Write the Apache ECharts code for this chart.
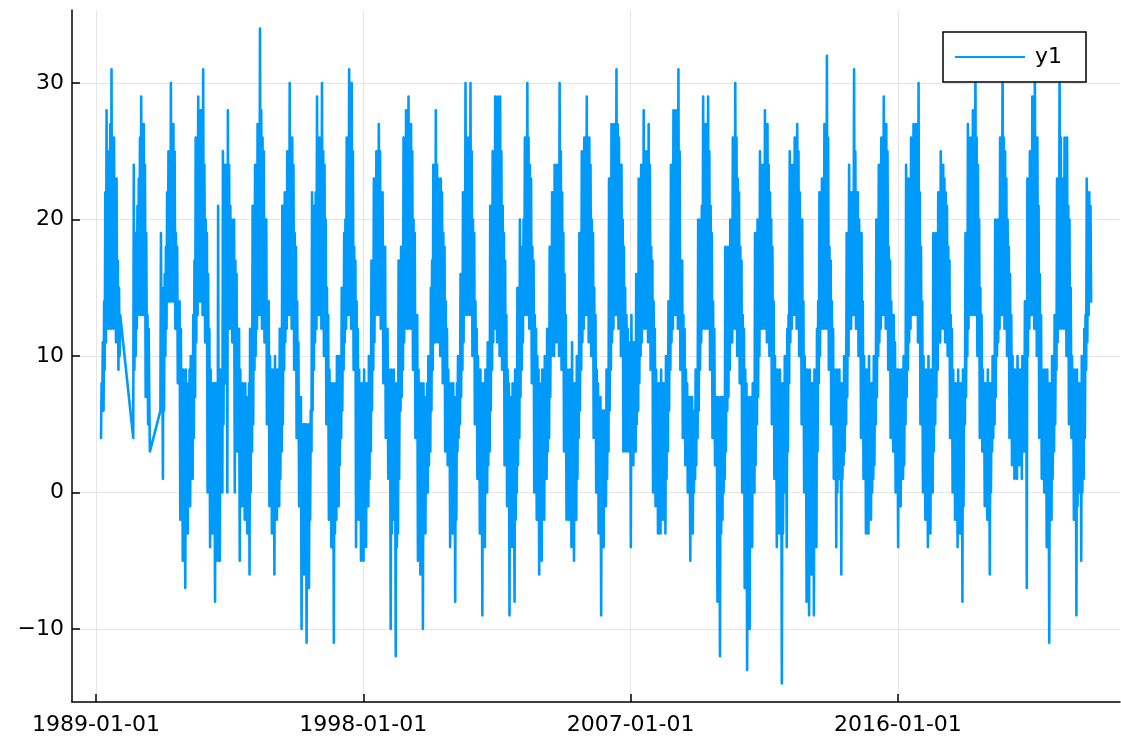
<!DOCTYPE html>
<html>
<head>
<meta charset="utf-8">
<script src="https://cdn.jsdelivr.net/npm/echarts@6/dist/echarts.min.js"></script>
<style>
  html, body { margin: 0; padding: 0; background: #fff; }
  #chart { width: 1121px; height: 742px; }
</style>
</head>
<body>
<div id="chart"></div>
<script>
// Years covered by the series
const years = [1989,1990,1991,1992,1993,1994,1995,1996,1997,1998,1999,2000,2001,2002,2003,2004,2005,2006,2007,2008,2009,2010,2011,2012,2013,2014,2015,2016,2017,2018,2019,2020,2021,2022];

// Four readings per month (Jan..Dec) of each year, taken on day 4, 11, 18 and 26; null = no data
const readingDay4 = [
  [null,null,4,6,11,12,12,12,11,9,null,null],
  [null,null,null,4,10,13,13,13,7,5,null,null],
  [null,null,6,1,10,14,14,14,12,8,-2,-5],
  [-7,-3,-1,1,7,13,14,13,11,0,-4,-3],
  [-8,-5,-5,0,8,0,12,11,0,3,-5,-1],
  [-2,-3,-6,3,9,12,13,12,11,5,-1,-3],
  [-6,-2,-1,3,9,12,13,12,9,4,-1,-10],
  [-6,-11,-7,3,9,12,13,12,10,5,-2,-4],
  [-11,-2,-1,4,9,12,13,12,9,-4,-2,-5],
  [-5,-4,-1,3,9,13,13,12,8,4,1,-10],
  [-2,-12,-3,6,9,12,12,12,9,4,-5,-6],
  [-10,-3,0,3,9,11,11,10,8,3,2,-4],
  [-3,-8,3,5,9,13,13,13,10,5,1,-3],
  [-9,-4,0,3,9,12,11,10,9,2,-1,-9],
  [-4,-8,0,4,9,13,13,12,8,0,-2,-6],
  [-5,-2,1,4,10,10,11,10,9,3,-2,-2],
  [-4,-5,-2,4,9,12,13,11,10,4,0,-3],
  [-9,-4,-1,3,9,12,13,12,10,3,3,3],
  [-4,2,3,6,10,12,12,11,9,0,-1,-3],
  [-3,-2,-3,3,9,12,13,12,9,4,2,0],
  [-5,-3,1,4,9,12,12,12,9,4,2,-8],
  [-12,-2,1,6,9,11,12,10,8,0,-7,-13],
  [-10,-4,0,5,10,12,12,11,10,5,1,-4],
  [-3,-14,0,-4,8,12,13,12,10,5,0,-8],
  [-9,-6,-9,-4,8,12,12,12,9,5,1,-4],
  [1,-6,2,5,10,12,13,12,10,4,1,-3],
  [-3,-2,1,5,10,12,13,12,9,4,3,0],
  [-4,-1,1,5,9,12,13,13,11,5,0,-2],
  [-4,-3,0,5,9,11,12,11,10,4,0,-2],
  [-4,-3,-8,5,10,13,13,13,10,4,3,-1],
  [-2,-6,3,5,10,12,13,12,10,4,2,1],
  [1,2,1,3,-7,12,13,12,10,4,1,0],
  [-4,-11,-2,3,9,12,12,12,10,5,4,-2],
  [-9,0,-5,1,9,13,14,null,null,null,null,null]
];

const readingDay11 = [
  [null,null,8,14,28,25,31,26,23,15,null,null],
  [null,null,null,24,19,23,29,27,19,12,null,null],
  [null,null,19,15,18,25,30,27,19,12,12,9],
  [9,7,10,13,26,29,28,31,20,16,9,8],
  [8,21,9,25,24,28,21,19,17,11,9,8],
  [8,7,12,21,24,27,34,26,19,13,10,9],
  [10,9,12,21,22,25,30,26,19,14,6,5],
  [5,4,5,22,21,29,26,30,24,15,9,8],
  [8,10,10,15,19,26,31,30,18,14,9,8],
  [9,8,10,17,23,25,27,19,17,12,9,9],
  [9,8,17,18,26,28,29,27,20,13,9,8],
  [8,7,10,15,24,28,23,23,19,14,9,8],
  [8,7,10,16,22,30,26,30,20,14,10,9],
  [8,9,11,21,25,29,29,29,21,17,9,7],
  [8,9,15,20,18,26,30,24,18,13,10,8],
  [9,10,12,18,22,24,24,30,22,16,9,9],
  [11,8,10,19,25,26,29,26,20,15,9,7],
  [6,6,9,23,27,27,31,26,24,18,13,11],
  [13,11,16,23,24,28,25,27,18,14,9,8],
  [9,8,10,14,24,28,28,31,17,13,9,7],
  [7,6,9,20,20,29,27,29,21,14,6,7],
  [7,7,18,18,20,26,30,23,18,13,9,7],
  [7,8,19,20,25,24,28,27,22,18,10,9],
  [9,8,10,12,25,24,26,27,22,20,10,9],
  [9,8,9,12,22,23,27,32,18,14,9,9],
  [9,8,10,19,24,22,31,22,20,19,10,9],
  [10,8,10,20,24,26,29,27,18,14,13,9],
  [9,9,10,24,23,26,27,27,30,18,10,9],
  [10,9,19,19,22,25,24,22,18,13,9,8],
  [9,8,9,19,27,26,28,32,24,15,9,8],
  [9,8,10,20,20,26,33,25,20,16,10,9],
  [10,9,10,14,23,25,29,32,26,16,9,9],
  [9,8,10,13,23,32,23,26,26,20,10,9],
  [9,8,10,12,23,22,null,null,null,null,null,null]
];

const readingDay18 = [
  [null,null,6,9,13,13,13,13,12,10,null,null],
  [null,null,null,9,12,14,14,13,10,7,null,null],
  [null,null,9,6,12,14,15,14,12,8,1,-1],
  [-2,0,1,4,11,14,14,13,11,6,0,-1],
  [-2,-1,0,5,10,12,13,12,10,6,0,0],
  [0,-1,0,5,10,13,14,13,11,6,2,-1],
  [-1,0,1,5,11,13,14,13,10,5,1,-4],
  [-3,-4,-2,6,11,13,14,13,11,6,1,-1],
  [-3,0,2,6,11,13,14,13,11,4,1,-1],
  [-1,0,1,6,11,14,14,13,11,6,2,-3],
  [0,-4,1,7,11,13,14,13,11,6,0,-2],
  [-3,0,2,6,11,13,13,12,10,5,3,0],
  [0,-2,4,7,11,14,15,14,12,7,3,0],
  [-2,0,2,6,11,13,13,13,11,5,1,-3],
  [-1,-2,2,7,11,14,15,14,11,5,1,-2],
  [-1,1,3,7,11,12,13,13,11,6,1,0],
  [0,-1,1,6,11,13,14,13,11,6,2,-1],
  [-3,-1,1,6,11,14,15,14,12,7,5,5],
  [3,4,5,8,11,13,13,13,11,5,2,0],
  [0,1,1,6,11,13,14,13,10,6,3,1],
  [-1,0,2,6,11,13,14,13,11,6,3,-2],
  [-3,0,3,7,11,13,14,12,10,5,-1,-3],
  [-2,0,2,7,12,13,14,13,12,7,3,0],
  [0,-3,2,3,11,13,14,13,11,7,2,-2],
  [-2,-1,-2,3,10,13,14,14,11,6,2,0],
  [3,1,3,7,12,13,14,13,12,7,3,1],
  [0,0,2,7,11,13,14,13,11,6,5,2],
  [0,1,2,7,11,13,14,14,12,7,2,0],
  [0,0,3,7,11,13,13,13,11,6,2,0],
  [0,0,-1,7,12,14,14,14,12,6,4,1],
  [1,0,4,7,11,14,14,13,11,6,3,3],
  [3,3,3,6,10,13,14,14,12,6,3,2],
  [0,-2,1,5,11,13,13,13,12,7,5,1],
  [-1,2,0,4,11,14,null,null,null,null,null,null]
];

const readingDay26 = [
  [null,null,11,22,23,27,25,23,17,13,null,null],
  [null,null,null,15,21,26,25,24,13,3,null,null],
  [null,null,13,16,22,24,26,25,18,14,9,8],
  [8,9,9,17,22,26,27,24,19,12,8,8],
  [8,9,8,18,22,24,20,20,16,12,8,7],
  [7,8,11,17,23,26,28,25,20,14,9,8],
  [9,8,11,16,21,24,26,24,18,11,7,5],
  [5,5,6,17,22,25,26,25,20,13,8,7],
  [7,9,9,14,20,24,27,25,17,12,8,8],
  [8,8,9,16,21,23,25,22,18,12,8,7],
  [8,7,12,17,22,25,26,25,19,13,8,7],
  [7,8,10,17,22,24,22,22,18,12,8,7],
  [7,8,10,15,21,26,25,25,19,12,8,8],
  [8,8,10,17,22,25,26,25,19,13,8,7],
  [7,8,12,17,20,25,26,23,17,12,9,7],
  [8,9,11,16,21,23,24,25,19,13,8,8],
  [8,7,9,16,22,24,26,24,19,13,8,7],
  [6,6,9,17,23,25,27,24,20,15,12,11],
  [11,11,13,19,22,25,24,24,17,12,8,8],
  [8,8,9,14,21,25,26,25,17,12,8,7],
  [7,6,9,16,21,25,25,25,19,12,7,6],
  [7,7,12,17,20,24,26,22,17,12,8,6],
  [7,8,12,18,22,24,25,24,20,14,9,8],
  [8,7,9,13,21,24,25,25,20,14,9,8],
  [8,8,8,14,20,23,26,26,17,12,8,8],
  [8,8,10,16,22,22,25,22,19,14,9,8],
  [8,8,10,17,22,24,26,25,17,13,11,9],
  [8,8,10,18,21,24,25,25,22,14,8,8],
  [8,8,13,17,21,23,23,21,17,12,8,8],
  [8,8,9,17,23,25,26,26,20,13,8,8],
  [8,8,10,17,20,24,26,23,18,13,9,9],
  [9,9,10,13,20,24,26,26,21,13,8,8],
  [8,8,9,12,21,26,22,24,21,15,9,8],
  [8,8,9,13,20,21,null,null,null,null,null,null]
];

// Tick labels
const xTickDates = ['1989-01-01','1998-01-01','2007-01-01','2016-01-01'];
const yTickValues = [-10, 0, 10, 20, 30];
const seriesName = 'y1';

function parseDate(s) {
  const p = s.split('-').map(Number);
  return Date.UTC(p[0], p[1] - 1, p[2]);
}
function pad(n) { return (n < 10 ? '0' : '') + n; }

const readingSets = [[4, readingDay4], [11, readingDay11], [18, readingDay18], [26, readingDay26]];
const points = [];
years.forEach((y, yi) => {
  for (let m = 0; m < 12; m++) {
    readingSets.forEach(([day, arr]) => {
      const v = arr[yi][m];
      if (v != null) points.push([Date.UTC(y, m, day), v]);
    });
  }
});

const xTicks = xTickDates.map(parseDate);
const FONT = 'DejaVu Sans';
const BLUE = '#009AFA';

const chart = echarts.init(document.getElementById('chart'), null, { renderer: 'canvas' });
chart.setOption({
  animation: false,
  backgroundColor: '#ffffff',
  grid: { left: 72, right: 1, top: 10, bottom: 40 },
  xAxis: {
    type: 'value',
    min: Date.UTC(1988, 2, 12),
    max: Date.UTC(2023, 5, 24),
    axisLine: { show: true, onZero: false, lineStyle: { color: '#000', width: 1.5 } },
    axisTick: { show: true, inside: true, length: 8, customValues: xTicks, lineStyle: { color: '#000', width: 1.5 } },
    axisLabel: {
      customValues: xTicks,
      margin: 12,
      color: '#000',
      fontFamily: FONT,
      fontSize: 22,
      formatter: function (v) {
        const d = new Date(v);
        return d.getUTCFullYear() + '-' + pad(d.getUTCMonth() + 1) + '-' + pad(d.getUTCDate());
      }
    },
    splitLine: { show: true, lineStyle: { color: '#e6e6e6', width: 1 } }
  },
  yAxis: {
    type: 'value',
    min: -15.35,
    max: 35.35,
    axisLine: { show: true, onZero: false, lineStyle: { color: '#000', width: 1.5 } },
    axisTick: { show: true, inside: true, length: 8, customValues: yTickValues, lineStyle: { color: '#000', width: 1.5 } },
    axisLabel: {
      customValues: yTickValues,
      margin: 8,
      color: '#000',
      fontFamily: FONT,
      fontSize: 22,
      formatter: function (v) { return v < 0 ? '\u2212' + Math.abs(v) : String(v); }
    },
    splitLine: { show: true, lineStyle: { color: '#e6e6e6', width: 1 } }
  },
  legend: {
    show: true,
    left: 943,
    top: 32,
    orient: 'vertical',
    backgroundColor: '#ffffff',
    borderColor: '#000',
    borderWidth: 1.5,
    borderRadius: 0,
    padding: [14, 24, 14, 12],
    icon: 'rect',
    itemWidth: 70,
    itemHeight: 2,
    itemStyle: { color: BLUE },
    textStyle: { color: '#000', fontFamily: FONT, fontSize: 22, padding: [0, 0, 0, 5] },
    data: [seriesName]
  },
  series: [{
    name: seriesName,
    type: 'line',
    data: points,
    symbol: 'none',
    showSymbol: false,
    sampling: false,
    lineStyle: { color: BLUE, width: 2.6, join: 'round', cap: 'round' },
    itemStyle: { color: BLUE },
    z: 2
  }]
});
</script>
</body>
</html>
